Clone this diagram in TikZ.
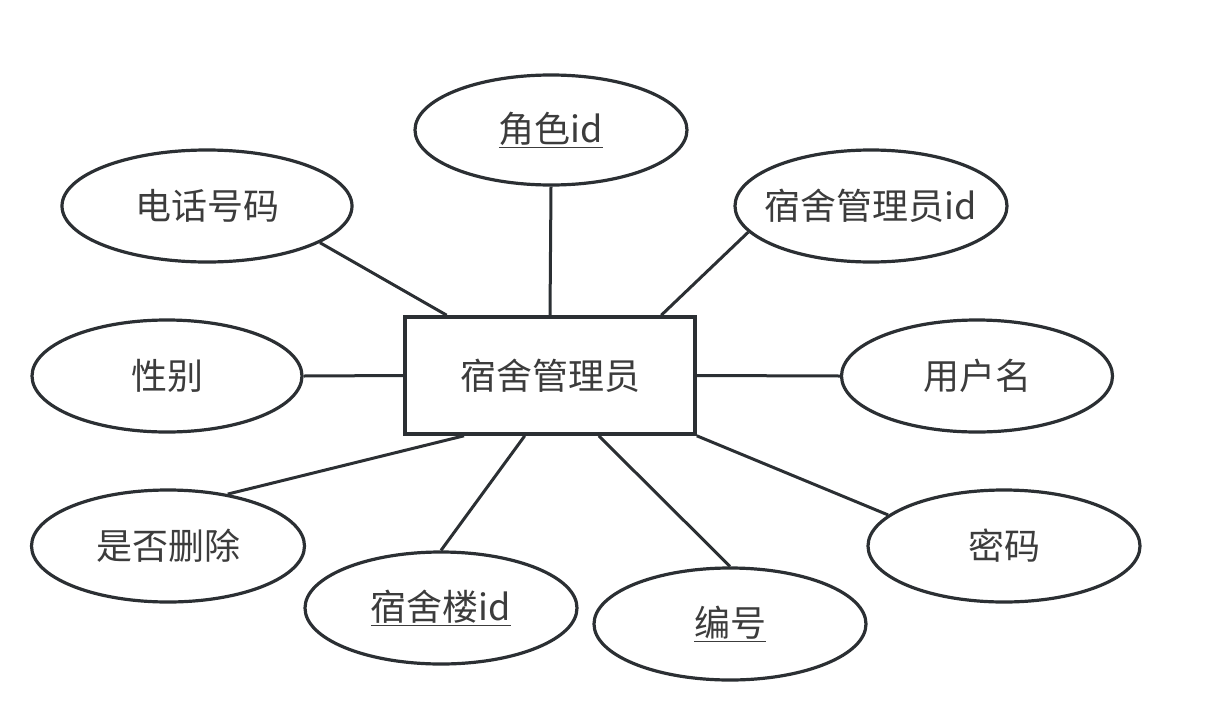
\documentclass[tikz,border=0pt]{standalone}
\usepackage{fontspec}
\setmainfont{Noto Sans CJK SC}
\usetikzlibrary{shapes.geometric,calc}
\definecolor{ln}{HTML}{2B2F33}
\definecolor{tx}{HTML}{3C3C3C}
\begin{document}
\begin{tikzpicture}[x=1pt,y=-1pt,
  attr/.style={ellipse,draw=ln,line width=3.2pt,minimum width=272pt,minimum height=110pt,inner sep=0pt,text=tx,font=\fontsize{36}{42}\selectfont},
  ent/.style={rectangle,draw=ln,line width=3.6pt,minimum width=290pt,minimum height=117pt,inner sep=0pt,text=tx,font=\fontsize{36}{42}\selectfont},
  conn/.style={draw=ln,line width=3pt}]
\useasboundingbox (0,0) rectangle (1209,720);
\node[ent] (c) at (550,375.5) {宿舍管理员};
\node[attr] (role) at (551,130) {\underline{角色id}};
\node[attr,minimum width=290pt,minimum height=112pt] (tel) at (207,206) {电话号码};
\node[attr,minimum height=112pt] (mid) at (871,206) {\makebox[0pt][c]{宿舍管理员id}};
\node[attr,minimum width=270pt,minimum height=112pt] (sex) at (167,376) {性别};
\node[attr,minimum width=271pt,minimum height=112pt] (user) at (977,376) {用户名};
\node[attr,minimum width=273pt,minimum height=112pt] (del) at (168,546) {是否删除};
\node[attr,minimum height=112pt] (bld) at (441,608) {\underline{宿舍楼id}};
\node[attr,minimum height=112pt] (num) at (730,624) {\underline{编号}};
\node[attr,minimum height=112pt] (pwd) at (1004,546) {密码};
\draw[conn] (role.south) -- (c.north);
\draw[conn] (tel.-18) -- ($(c.north west)!0.148!(c.north east)$);
\draw[conn] (mid.-168) -- ($(c.north west)!0.879!(c.north east)$);
\draw[conn] (sex.east) -- (c.west);
\draw[conn] (user.west) -- (c.east);
\draw[conn] (del.41) -- ($(c.south west)!0.207!(c.south east)$);
\draw[conn] (bld.north) -- ($(c.south west)!0.414!(c.south east)$);
\draw[conn] (num.north) -- ($(c.south west)!0.666!(c.south east)$);
\draw[conn] (pwd.165) -- (c.south east);
\end{tikzpicture}
\end{document}
